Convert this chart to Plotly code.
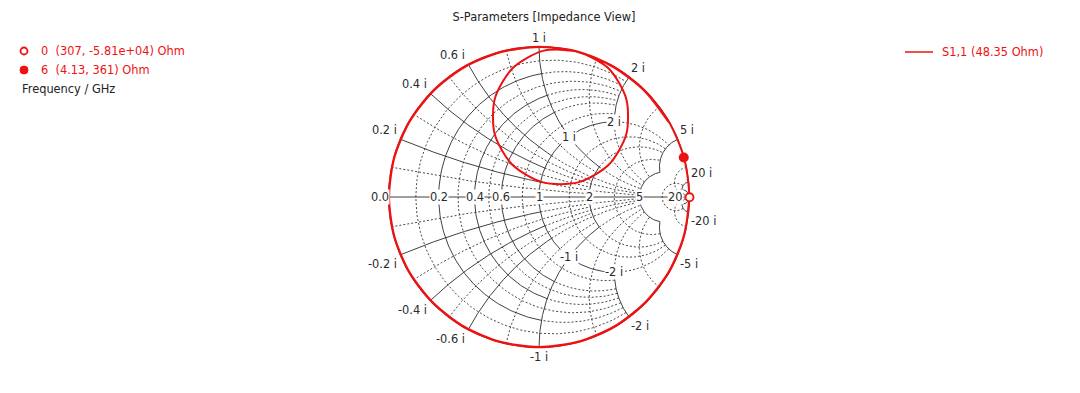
import numpy as np
import plotly.graph_objects as go

# ---------------- data ----------------
Z0 = 48.35  # port reference impedance (Ohm)
trace_name = "S1,1"

s11_re = [0.999, 0.964, 0.864, 0.705, 0.499, 0.258, 0.000, -0.258, -0.499, -0.705, -0.864, -0.964,
          -0.998, -0.964, -0.864, -0.705, -0.499, -0.258, 0.000, 0.258, 0.499, 0.705, 0.864, 0.964,
          0.998, 0.962, 0.862, 0.703, 0.497, 0.257, 0.000, -0.257, -0.497, -0.703, -0.862, -0.962,
          -0.996, -0.962, -0.862, -0.703, -0.497, -0.257, 0.000, 0.260,
          0.463, 0.580, 0.580, 0.463, 0.260, 0.026, -0.177, -0.294, -0.294, -0.177, 0.026, 0.258,
          0.497, 0.703, 0.862]
s11_im = [-0.002, -0.258, -0.499, -0.705, -0.864, -0.964, -0.998, -0.964, -0.864, -0.705, -0.499, -0.258,
          0.000, 0.258, 0.499, 0.705, 0.864, 0.964, 0.998, 0.964, 0.864, 0.705, 0.499, 0.258,
          0.000, -0.257, -0.497, -0.703, -0.862, -0.962, -0.996, -0.962, -0.862, -0.703, -0.497, -0.257,
          0.000, 0.257, 0.497, 0.703, 0.862, 0.962, 0.996, 0.966,
          0.854, 0.651, 0.417, 0.214, 0.097, 0.097, 0.214, 0.417, 0.651, 0.854, 0.971, 0.966,
          0.862, 0.703, 0.497]

# markers (frequency in GHz, impedance in Ohm)
marker_freq = [0, 6]
marker_R = [307, 4.13]
marker_X = [-58100, 361]

# Smith grid values (normalised)
major_vals = [0.2, 0.4, 0.6, 1, 2, 5, 20]
minor_vals = [0.1, 0.3, 0.5, 0.8, 1.5, 3, 10]

RED = "#ee1111"
TXT = "#2a2a2a"
FONT = "DejaVu Sans"
FS = 11.4

OFF = 8  # page body margin
W, H = 1080 - OFF, 393 - OFF
CX, CY, RAD = 539.0 - OFF, 197.0 - OFF, 150.5


def gam(r, x):
    z = complex(r, x)
    return (z - 1) / (z + 1)


def r_circle(r, xmax, n=160, xmin=0.0):
    """constant-resistance arc for xmin <= |x| <= xmax (both signs)"""
    out_x, out_y = [], []
    if xmin == 0:
        s = np.linspace(-np.arctan(xmax / (r + 1)), np.arctan(xmax / (r + 1)), n)
        parts = [s]
    else:
        a0, a1 = np.arctan(xmin / (r + 1)), np.arctan(xmax / (r + 1))
        parts = [np.linspace(a0, a1, n), np.linspace(-a1, -a0, n)]
    for s in parts:
        z = r + 1j * (r + 1) * np.tan(s)
        g = (z - 1) / (z + 1)
        out_x += list(g.real) + [None]
        out_y += list(g.imag) + [None]
    return out_x, out_y


def x_arc(x, rmax, n=160, rmin=0.0):
    s = np.linspace(np.arctan(rmin / abs(x)), np.arctan(rmax / abs(x)), n)
    z = abs(x) * np.tan(s) + 1j * x
    g = (z - 1) / (z + 1)
    return list(g.real) + [None], list(g.imag) + [None]


solid_x, solid_y, dash_x, dash_y = [], [], [], []


def add(target, seg):
    target[0].extend(seg[0])
    target[1].extend(seg[1])


S = (solid_x, solid_y)
D = (dash_x, dash_y)
INF = 1e6
# outer circle and real axis
add(S, r_circle(0, INF, 400))
add(S, ([-1, 1, None], [0, 0, None]))

# low values: solid web inside r<=1, |x|<=1, dashed continuation
for v in [0.2, 0.4, 0.6]:
    add(S, r_circle(v, 1))
    add(D, r_circle(v, 2, xmin=1))
    for sg in (1, -1):
        add(S, x_arc(sg * v, 1))
        add(D, x_arc(sg * v, 5, rmin=1))
# r = 1 / x = 1 / r = 2 / x = 2
add(S, r_circle(1, 2))
add(D, r_circle(1, 5, xmin=2))
add(S, r_circle(2, 1))
add(D, r_circle(2, 5, xmin=1))
for sg in (1, -1):
    add(S, x_arc(sg * 1, 2))
    add(D, x_arc(sg * 1, 5, rmin=2))
    add(S, x_arc(sg * 2, 1))
    add(D, x_arc(sg * 2, 5, rmin=1))
# r = 5 / x = 5
add(S, r_circle(5, 5))
for sg in (1, -1):
    add(S, x_arc(sg * 5, 5))
# r = 20 / x = 20
add(S, r_circle(20, INF))
for sg in (1, -1):
    add(S, x_arc(sg * 20, INF))

# minor dashed lines
for v in [0.1, 0.3, 0.5, 0.8]:
    add(D, r_circle(v, 2))
    for sg in (1, -1):
        add(D, x_arc(sg * v, 2))
for v in [1.5, 3]:
    add(D, r_circle(v, 5))
    for sg in (1, -1):
        add(D, x_arc(sg * v, 5))
add(D, r_circle(10, 20))
for sg in (1, -1):
    add(D, x_arc(sg * 10, 20))

fig = go.Figure()
fig.add_trace(go.Scatter(x=dash_x, y=dash_y, mode="lines",
                         line=dict(color="#333333", width=0.9, dash="2px,2px"), hoverinfo="skip"))
fig.add_trace(go.Scatter(x=solid_x, y=solid_y, mode="lines",
                         line=dict(color="#2a2a2a", width=0.9), hoverinfo="skip"))

# S1,1 trace
fig.add_trace(go.Scatter(x=s11_re, y=s11_im, mode="lines", name=trace_name,
                         line=dict(color=RED, width=2, shape="spline", smoothing=0.8)))

# markers from impedance values
mg = [gam(r / Z0, x / Z0) for r, x in zip(marker_R, marker_X)]
fig.add_trace(go.Scatter(x=[mg[0].real], y=[mg[0].imag], mode="markers",
                         marker=dict(size=8, color="white", line=dict(color=RED, width=1.8))))
fig.add_trace(go.Scatter(x=[mg[1].real], y=[mg[1].imag], mode="markers",
                         marker=dict(size=10, color=RED)))

ann = []
f11 = dict(family=FONT, size=FS, color=TXT)


def fmt(v):
    return f"{v:g}"


# real-axis labels
ann.append(dict(x=-1, y=0, text="0.0", xanchor="right", yanchor="middle", xshift=1,
                bgcolor="white", borderpad=0, font=f11))
for v in major_vals:
    p = gam(v, 0)
    ann.append(dict(x=p.real, y=p.imag, text=fmt(v), xanchor="center", yanchor="middle",
                    bgcolor="white", borderpad=0, font=f11))

# outer reactance labels
for v in major_vals:
    for sg in (1, -1):
        p = gam(0, sg * v)
        if p.real < -0.1:
            xa, xs = "right", -1
        elif p.real > 0.1:
            xa, xs = "left", 0
        else:
            xa, xs = "center", 0
        ann.append(dict(x=p.real, y=p.imag, text=f"{fmt(sg * v)} i", xanchor=xa, xshift=xs,
                        yanchor="bottom" if sg > 0 else "top", font=f11))

# inner labels on r = 1
for v in [1, 2]:
    for sg in (1, -1):
        p = gam(1, sg * v)
        ann.append(dict(x=p.real, y=p.imag, text=f"{fmt(sg * v)} i", xanchor="center", yanchor="middle",
                        bgcolor="white", borderpad=0, font=f11))

for a in ann:
    a.update(xref="x", yref="y", showarrow=False)


def px(xp):
    return (xp - OFF) / W


def py(yp):
    return 1 - (yp - OFF) / H


fl = dict(family=FONT, size=FS, color=RED)
for i, (f, r, x) in enumerate(zip(marker_freq, marker_R, marker_X)):
    ann.append(dict(xref="paper", yref="paper", x=px(39), y=py(51 + 19 * i), xanchor="left", yanchor="middle",
                    text=f"{f}  ({r:.3g}, {x:.3g}) Ohm", showarrow=False, font=fl))
ann.append(dict(xref="paper", yref="paper", x=px(20), y=py(89), xanchor="left", yanchor="middle",
                text="Frequency / GHz", showarrow=False, font=dict(family=FONT, size=FS, color="#222222")))
ann.append(dict(xref="paper", yref="paper", x=px(940), y=py(52), xanchor="left", yanchor="middle",
                text=f"{trace_name} ({Z0:g} Ohm)", showarrow=False, font=fl))

shapes = [
    dict(type="circle", xref="paper", yref="paper", x0=px(20.5), x1=px(27.5), y0=py(47.5), y1=py(54.5),
         line=dict(color=RED, width=1.8), fillcolor="white"),
    dict(type="circle", xref="paper", yref="paper", x0=px(20), x1=px(28), y0=py(66), y1=py(74),
         line=dict(color=RED, width=1), fillcolor=RED),
    dict(type="line", xref="paper", yref="paper", x0=px(905), x1=px(933), y0=py(52), y1=py(52),
         line=dict(color=RED, width=1.5)),
]

fig.update_layout(
    width=W, height=H, autosize=False,
    margin=dict(l=0, r=0, t=0, b=0),
    paper_bgcolor="white", plot_bgcolor="white",
    showlegend=False,
    title=dict(text="S-Parameters [Impedance View]", x=0.5, xanchor="center", y=py(17), yanchor="middle",
               font=dict(family=FONT, size=FS, color="#222222")),
    xaxis=dict(range=[-CX / RAD, (W - CX) / RAD], visible=False, fixedrange=True),
    yaxis=dict(range=[-(H - CY) / RAD, CY / RAD], visible=False, fixedrange=True),
    annotations=ann, shapes=shapes,
)

fig.write_html("out.html")
